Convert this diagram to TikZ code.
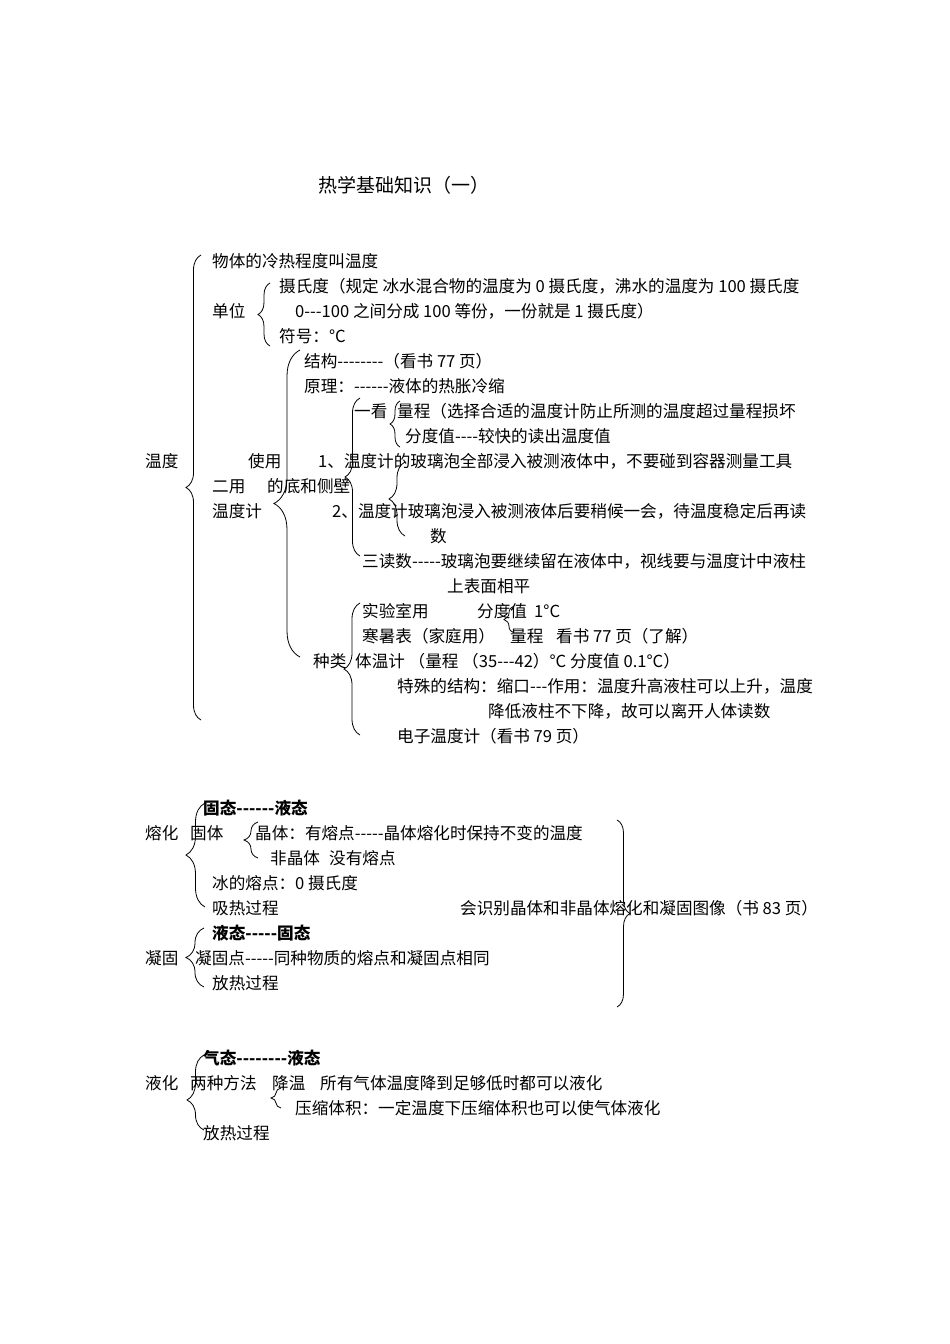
\documentclass[tikz,border=0pt]{standalone}
\usepackage{fontspec}
\newfontfamily\cn{Noto Sans CJK SC}
\usetikzlibrary{decorations.pathreplacing}
\begin{document}
\begin{tikzpicture}[x=1pt,y=-1pt,
  t/.style={anchor=base west, inner sep=0pt, font=\cn\fontsize{16.6}{20}\selectfont},
  tb/.style={t, font=\cn\bfseries\fontsize{16.6}{20}\selectfont},
  ttl/.style={t, font=\cn\fontsize{19}{22}\selectfont},
  br/.style={decorate, decoration={brace, amplitude=#1}, line width=0.8pt},
  bra/.style 2 args={decorate, decoration={brace, amplitude=#1, aspect=#2}, line width=0.8pt}]
\fill[white] (0,0) rectangle (950,1344);
\useasboundingbox (0,0) rectangle (950,1344);

% title
\node[ttl] (title) at (318,192) {热学基础知识（一）};

% ---------- section 1 ----------
\node[t] (wendu) at (145,467) {温度};
\node[t] (def) at (212,267) {物体的冷热程度叫温度};
\node[t] (danwei) at (212,317) {单位};
\node[t] (she1) at (279,292) {摄氏度（规定 冰水混合物的温度为 0 摄氏度，沸水的温度为 100 摄氏度};
\node[t] (she2) at (295,317) {0---100 之间分成 100 等份，一份就是 1 摄氏度）};
\node[t] (fuhao) at (279,342) {符号：°C};
\node[t] (jiegou) at (304,367) {结构--------（看书 77 页）};
\node[t] (yuanli) at (304,392) {原理：------液体的热胀冷缩};
\node[t] (yikan) at (354,417) {一看};
\node[t] (liangcheng) at (397,417) {量程（选择合适的温度计防止所测的温度超过量程损坏};
\node[t] (fendu) at (405,442) {分度值----较快的读出温度值};
\node[t] (shiyong) at (248,467) {使用};
\node[t] (yong1) at (318,467) {1、温度计的玻璃泡全部浸入被测液体中，不要碰到容器测量工具};
\node[t] (eryong) at (212,492) {二用};
\node[t] (didi) at (267,492) {的底和侧壁};
\node[t] (wdj) at (212,517) {温度计};
\node[t] (yong2) at (332,517) {2、温度计玻璃泡浸入被测液体后要稍候一会，待温度稳定后再读};
\node[t] (shu) at (430,542) {数};
\node[t] (sandu) at (362,567) {三读数-----玻璃泡要继续留在液体中，视线要与温度计中液柱};
\node[t] (shangbiao) at (447,592) {上表面相平};
\node[t] (shiyan) at (362,617) {实验室用};
\node[t] (fdz) at (477,617) {分度值};
\node[t] (oneC) at (534,617) {1°C};
\node[t] (hanshu) at (362,642) {寒暑表（家庭用）};
\node[t] (lc2) at (510,642) {量程};
\node[t] (kanshu) at (556,642) {看书 77 页（了解）};
\node[t] (zhonglei) at (313,667) {种类};
\node[t] (tiwen) at (355,667) {体温计 （量程 （35---42）°C 分度值 0.1°C）};
\node[t] (teshu) at (397,692) {特殊的结构：缩口---作用：温度升高液柱可以上升，温度};
\node[t] (jiangdi) at (488,717) {降低液柱不下降，故可以离开人体读数};
\node[t] (dianzi) at (397,742) {电子温度计（看书 79 页）};

\draw[br=15pt] (201,720) -- (201,255);
\draw[br=12pt] (270,346) -- (270,283);
\draw[br=26pt] (300,657) -- (300,350);
\draw[br=15pt] (360,556) -- (360,398);
\draw[br=10pt] (400,447) -- (400,401);
\draw[br=16pt] (405,536) -- (405,462);
\draw[br=16pt] (360,735) -- (360,603);
\draw[br=10pt] (514,633) -- (514,606);

% ---------- section 2 ----------
\node[tb] (gu2ye) at (203,814) {固态------液态};
\node[t] (ronghua) at (145,839) {熔化};
\node[t] (guti) at (190,839) {固体};
\node[t] (jingti) at (255,839) {晶体：有熔点-----晶体熔化时保持不变的温度};
\node[t] (feijing) at (270,864) {非晶体};
\node[t] (meiyou) at (329,864) {没有熔点};
\node[t] (bing) at (212,889) {冰的熔点：0 摄氏度};
\node[t] (xire) at (212,914) {吸热过程};
\node[t] (huishi) at (460,914) {会识别晶体和非晶体熔化和凝固图像（书 83 页）};
\node[tb] (ye2gu) at (212,939) {液态-----固态};
\node[t] (ninggu) at (145,964) {凝固};
\node[t] (ngd) at (195,964) {凝固点-----同种物质的熔点和凝固点相同};
\node[t] (fangre1) at (212,989) {放热过程};

\draw[br=19pt] (205,907) -- (205,803);
\draw[br=14pt] (258,858) -- (258,822);
\draw[br=13pt] (617,820) -- (617,1007);
\draw[br=18pt] (204,987) -- (204,928);

% ---------- section 3 ----------
\node[tb] (qi2ye) at (203,1064) {气态--------液态};
\node[t] (yehua) at (145,1089) {液化};
\node[t] (liangzhong) at (190,1089) {两种方法};
\node[t] (jiangwen) at (272,1089) {降温};
\node[t] (suoyou) at (320,1089) {所有气体温度降到足够低时都可以液化};
\node[t] (yasuo) at (295,1114) {压缩体积：一定温度下压缩体积也可以使气体液化};
\node[t] (fangre2) at (203,1139) {放热过程};

\draw[bra={17pt}{0.4}] (204,1130) -- (204,1055);
\draw[br=10pt] (281,1108) -- (281,1088);
\end{tikzpicture}
\end{document}
